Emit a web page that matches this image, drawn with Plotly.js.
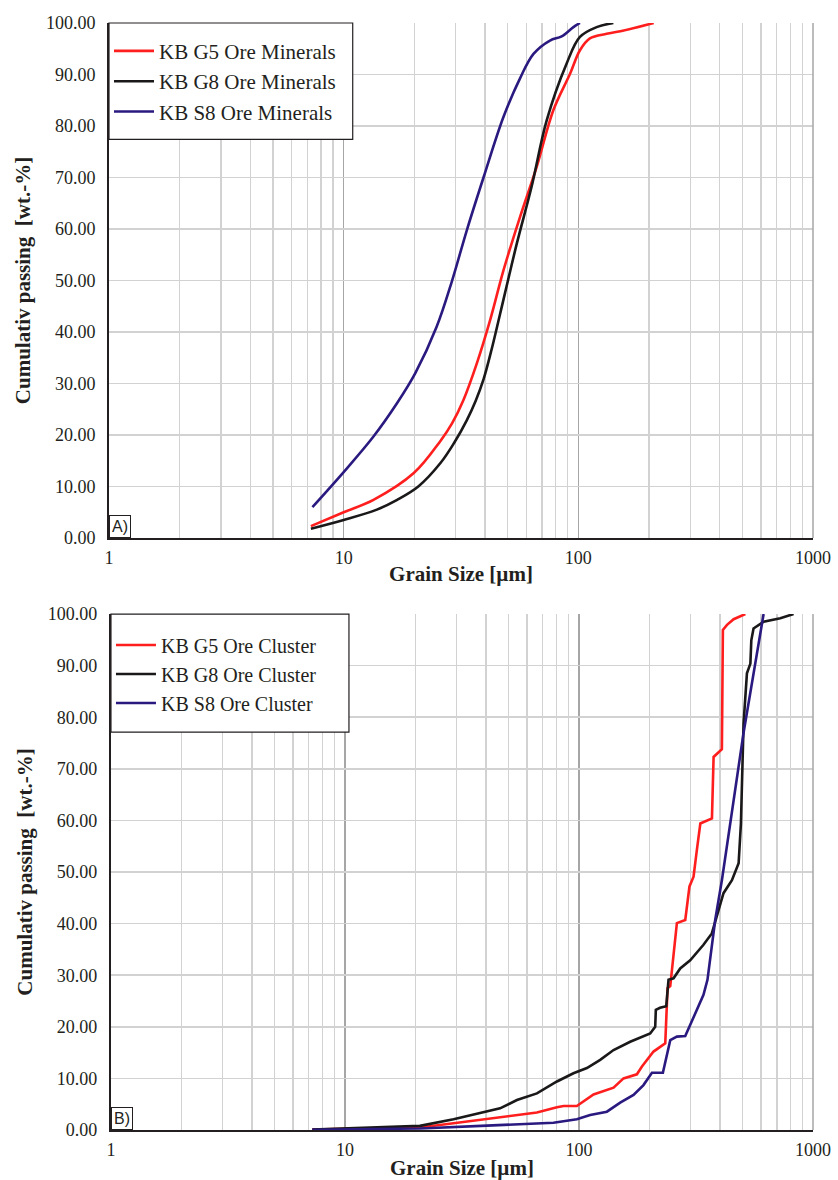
<!DOCTYPE html>
<html>
<head>
<meta charset="utf-8">
<script src="https://cdn.plot.ly/plotly-3.0.1.min.js"></script>
<style>html,body{margin:0;padding:0;background:#fff;}#chart{width:838px;height:1180px;}</style>
</head>
<body>
<div id="chart"></div>
<script>
// ---------- Panel A: ore minerals ----------
const sizeA_G5 = [7.25, 10, 13.4, 19.9, 25.8, 29.0, 32.4, 37.0, 42.2, 48.0, 56.5, 66.5, 78.3, 92.3, 101.6, 112, 132, 151, 209.5];
const passA_G5 = [2.3, 5.0, 7.4, 12.6, 18.8, 22.3, 26.8, 34.0, 42.5, 52.0, 62.4, 72.1, 83.1, 90.2, 94.7, 97.0, 97.9, 98.4, 100];
const sizeA_G8 = [7.25, 10, 13.85, 16.9, 20.8, 25.8, 29.5, 33.5, 36.5, 39.5, 42.8, 46.4, 54.7, 63.2, 73.3, 89.1, 101.6, 119.7, 141];
const passA_G8 = [1.8, 3.5, 5.5, 7.4, 10.0, 14.5, 18.4, 22.9, 26.6, 30.9, 36.8, 43.5, 57.2, 68.2, 81.1, 92.1, 97.3, 99.2, 100];
const sizeA_S8 = [7.36, 10, 13.4, 16.9, 20.2, 24.9, 28.9, 33.5, 39.5, 48.0, 56.5, 64.4, 75.7, 84.9, 95.3, 101.6];
const passA_S8 = [6.0, 12.8, 19.7, 26.2, 32.0, 41.0, 49.8, 59.8, 70.1, 81.8, 89.3, 94.0, 96.6, 97.4, 99.2, 100];

// ---------- Panel B: ore clusters ----------
const sizeB_G5 = [7.25, 20.9, 29.1, 40.4, 54.3, 66.1, 80.5, 85.9, 97.9, 115.4, 140.5, 155, 176.8, 185.8, 208.2, 233.7, 239, 245.5, 262, 284.5, 296.6, 308.7, 319, 330, 370, 376, 408, 412, 429, 458, 514];
const passB_G5 = [0.1, 0.5, 1.3, 2.1, 2.9, 3.4, 4.4, 4.65, 4.65, 6.9, 8.2, 10.0, 10.8, 12.3, 15.2, 16.8, 27.5, 27.9, 40.1, 40.7, 47.2, 49.1, 54.3, 59.4, 60.4, 72.3, 73.8, 96.9, 97.9, 99.0, 100];
const sizeB_G8 = [7.25, 20.9, 29.1, 40.4, 46.0, 54.3, 66.1, 80.5, 94.7, 108.1, 123.2, 140.5, 165.5, 201.5, 211.7, 213, 222, 236, 241.3, 253.6, 270.7, 298.7, 340.4, 369.5, 394.7, 414.5, 450.4, 481, 492, 505, 522, 540, 545, 557, 615, 725, 826];
const passB_G8 = [0.1, 0.8, 2.1, 3.55, 4.2, 5.8, 7.1, 9.4, 11.0, 12.0, 13.6, 15.5, 17.1, 18.7, 20.0, 23.3, 23.7, 24.0, 29.1, 29.4, 31.3, 32.9, 35.9, 38.1, 42.6, 45.9, 48.4, 51.7, 59.4, 78.8, 88.5, 90.4, 94.9, 97.2, 98.5, 99.2, 100];
const sizeB_S8 = [7.25, 20.9, 40.4, 77.8, 97.9, 111.6, 131.6, 150, 171, 188.6, 205, 228.3, 245.5, 262, 284.5, 308.7, 340.4, 354, 382, 408, 505, 615];
const passB_S8 = [0.05, 0.3, 0.85, 1.4, 2.1, 2.9, 3.55, 5.3, 6.8, 8.7, 11.1, 11.1, 17.4, 18.1, 18.2, 22.0, 26.2, 29.1, 40.7, 48.4, 77, 100];

const namesA = ['KB G5 Ore Minerals', 'KB G8 Ore Minerals', 'KB S8 Ore Minerals'];
const namesB = ['KB G5 Ore Cluster', 'KB G8 Ore Cluster', 'KB S8 Ore Cluster'];
const xTickVals = [1, 10, 100, 1000];
const xTickText = ['1', '10', '100', '1000'];

const colors = ['#ff1e1e', '#1a1818', '#2a1a80'];
const serif = '"Liberation Serif", "Times New Roman", serif';
const ink = '#231f20';

function tr(x, y, name, i, xa, ya, leg, shape) {
  return {x: x, y: y, name: name, type: 'scatter', mode: 'lines', xaxis: xa, yaxis: ya, legend: leg,
    line: {color: colors[i], width: 2.6, shape: shape, smoothing: 1}, hoverinfo: 'x+y+name'};
}

const data = [
  tr(sizeA_G5, passA_G5, namesA[0], 0, 'x', 'y', 'legend', 'spline'),
  tr(sizeA_G8, passA_G8, namesA[1], 1, 'x', 'y', 'legend', 'spline'),
  tr(sizeA_S8, passA_S8, namesA[2], 2, 'x', 'y', 'legend', 'spline'),
  tr(sizeB_G5, passB_G5, namesB[0], 0, 'x2', 'y2', 'legend2', 'linear'),
  tr(sizeB_G8, passB_G8, namesB[1], 1, 'x2', 'y2', 'legend2', 'linear'),
  tr(sizeB_S8, passB_S8, namesB[2], 2, 'x2', 'y2', 'legend2', 'linear')
];

const minorVals = [];
for (const d of [1, 10, 100]) for (let k = 2; k <= 9; k++) minorVals.push(k * d);

function xaxis(domain, anchor, standoff) {
  return {
    type: 'log', domain: domain, anchor: anchor, range: [0, 3],
    tickvals: xTickVals, ticktext: xTickText, ticks: '', ticklabelstandoff: 2,
    tickfont: {family: serif, size: 18, color: ink},
    showgrid: true, gridcolor: '#a6a6a6', gridwidth: 1.5,
    minor: {tickvals: minorVals, showgrid: true, gridcolor: '#d2d2d2', gridwidth: 1.5, ticks: ''},
    showline: true, linecolor: ink, linewidth: 2, mirror: false, zeroline: false,
    title: {text: 'Grain Size [µm]', font: {family: serif, size: 21, color: ink, weight: 'bold'}, standoff: standoff}
  };
}
function yaxis(domain, anchor, title) {
  return {
    domain: domain, anchor: anchor, range: [0, 100], dtick: 10, tickformat: '.2f',
    ticks: '', ticklabelstandoff: 8,
    tickfont: {family: serif, size: 18, color: ink},
    showgrid: true, gridcolor: '#d2d2d2', gridwidth: 1.5,
    showline: true, linecolor: ink, linewidth: 2, zeroline: false,
    title: {text: title, font: {family: serif, size: 21, color: ink, weight: 'bold'}, standoff: 10}
  };
}

const legendCommon = {
  x: 0, xanchor: 'left', yanchor: 'top', bgcolor: 'rgba(0,0,0,0)',
  borderwidth: 0, itemwidth: 40, tracegroupgap: 0
};

const nb = '\u00a0';
const layout = {
  width: 838, height: 1180,
  margin: {l: 109, r: 25, t: 23, b: 50},
  paper_bgcolor: '#ffffff', plot_bgcolor: '#ffffff',
  showlegend: true,
  xaxis: xaxis([0, 1], 'y', 0),
  yaxis: yaxis([0.5348, 1], 'x', 'Cumulativ passing' + nb + ' [wt.-%]'),
  xaxis2: xaxis([0.0028, 1], 'y2', 8),
  yaxis2: yaxis([0, 0.4661], 'x2', 'Cumulativ passing' + nb + ' [wt.-%]'),
  legend: Object.assign({}, legendCommon, {y: 0.993, font: {family: serif, size: 21, color: ink}}),
  legend2: Object.assign({}, legendCommon, {x: 0.0028, y: 0.4557, font: {family: serif, size: 20, color: ink}}),
  shapes: [
    {type: 'line', xref: 'x domain', yref: 'y domain', x0: 1, x1: 1, y0: 0, y1: 1, line: {color: '#a6a6a6', width: 1.5}},
    {type: 'line', xref: 'x2 domain', yref: 'y2 domain', x0: 1, x1: 1, y0: 0, y1: 1, line: {color: '#a6a6a6', width: 1.5}},
    {type: 'rect', layer: 'above', xref: 'x domain', yref: 'y domain', x0: 0, x1: 0.3462, y0: 0.7742, y1: 1,
     fillcolor: '#ffffff', line: {color: ink, width: 1.2}},
    {type: 'rect', layer: 'above', xref: 'x2 domain', yref: 'y2 domain', x0: 0, x1: 0.339, y0: 0.7713, y1: 1,
     fillcolor: '#ffffff', line: {color: ink, width: 1.2}}
  ],
  annotations: [
    {text: 'A)', xref: 'x domain', yref: 'y domain', x: 0, y: 0, xanchor: 'left', yanchor: 'bottom', showarrow: false,
     font: {family: '"Liberation Sans", Arial, sans-serif', size: 16, color: ink}, bordercolor: ink, borderwidth: 1, borderpad: 2, bgcolor: '#fff'},
    {text: 'B)', xref: 'x2 domain', yref: 'y2 domain', x: 0, y: 0, xanchor: 'left', yanchor: 'bottom', showarrow: false,
     font: {family: '"Liberation Sans", Arial, sans-serif', size: 16, color: ink}, bordercolor: ink, borderwidth: 1, borderpad: 2, bgcolor: '#fff'}
  ]
};

Plotly.newPlot('chart', data, layout, {displayModeBar: false, staticPlot: true});
</script>
</body>
</html>
